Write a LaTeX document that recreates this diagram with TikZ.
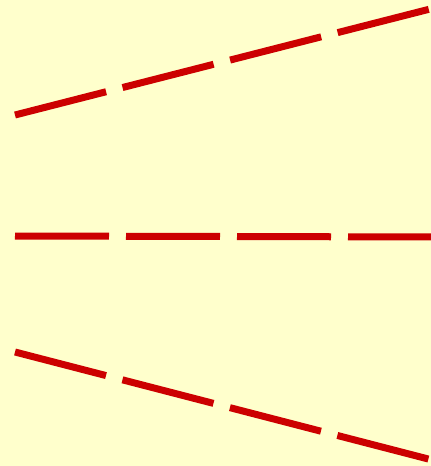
\documentclass[tikz,border=0pt]{standalone}
\definecolor{bg}{HTML}{FFFFCC}
\definecolor{lred}{HTML}{CC0000}
\begin{document}
\begin{tikzpicture}[x=1pt,y=-1pt,
  dline/.style={draw=lred,line width=7pt,dash pattern=on 94pt off 17pt}]
\fill[bg] (0,0) rectangle (431,466);
\useasboundingbox (0,0) rectangle (431,466);
\clip (0,0) rectangle (431,466);
\coordinate (t1) at (15,115);
\coordinate (t2) at (436,7.5);
\coordinate (m1) at (15,236);
\coordinate (m2) at (436,237);
\coordinate (b1) at (15,352);
\coordinate (b2) at (436,461);
\draw[dline] (t1) -- (t2);
\draw[dline] (m1) -- (m2);
\draw[dline] (b1) -- (b2);
\end{tikzpicture}
\end{document}
